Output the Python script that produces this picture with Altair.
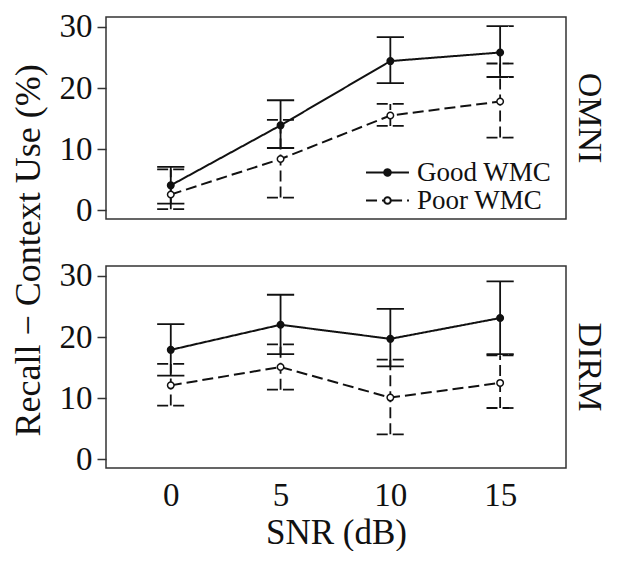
import altair as alt
import pandas as pd

# ---- data ----
snr = [0, 5, 10, 15]
panels = ["OMNI", "DIRM"]
groups = ["Good WMC", "Poor WMC"]

omni_good_mean = [4.1, 13.9, 24.4, 25.8]
omni_good_lo = [1.1, 10.2, 20.8, 21.8]
omni_good_hi = [7.1, 18.0, 28.3, 30.1]
omni_poor_mean = [2.6, 8.4, 15.5, 17.8]
omni_poor_lo = [0.2, 2.1, 13.8, 11.9]
omni_poor_hi = [6.7, 14.8, 17.4, 24.0]

dirm_good_mean = [17.9, 22.0, 19.7, 23.1]
dirm_good_lo = [13.7, 17.2, 15.2, 17.2]
dirm_good_hi = [22.1, 26.9, 24.6, 29.1]
dirm_poor_mean = [12.1, 15.1, 10.1, 12.5]
dirm_poor_lo = [8.8, 11.4, 4.1, 8.4]
dirm_poor_hi = [15.6, 18.8, 16.3, 17.0]

y_ticks = [0, 10, 20, 30]
x_ticks = [0, 5, 10, 15]

series = [
    ("OMNI", "Good WMC", omni_good_mean, omni_good_lo, omni_good_hi),
    ("OMNI", "Poor WMC", omni_poor_mean, omni_poor_lo, omni_poor_hi),
    ("DIRM", "Good WMC", dirm_good_mean, dirm_good_lo, dirm_good_hi),
    ("DIRM", "Poor WMC", dirm_poor_mean, dirm_poor_lo, dirm_poor_hi),
]
rows = []
for panel, grp, m, lo, hi in series:
    for s, a, b, c in zip(snr, m, lo, hi):
        rows.append({"panel": panel, "group": grp, "snr": s, "mean": a, "lo": b, "hi": c})
df = pd.DataFrame(rows)

FONT = "Liberation Serif"
INK = "#111111"
CAP = 0.62

xscale = alt.Scale(domain=[-2.95, 18.0], nice=False, zero=False)
yscale = alt.Scale(domain=[-1.4, 31.6], nice=False, zero=False)
dash_scale = alt.Scale(domain=groups, range=[[1, 0], [11, 5]])
fill_scale = alt.Scale(domain=groups, range=[INK, "#ffffff"])

yaxis = alt.Axis(values=y_ticks, title=None, domain=False, grid=False, tickSize=9,
                 tickWidth=1.5, tickColor="#333333", labelFont=FONT, labelFontSize=33,
                 labelColor=INK, labelPadding=5)

# legend symbol: line with circle in the middle
r = 0.244
L = 1.59
sym_path = (f"M{-L},0L{-r - 0.02},0M{r + 0.02},0L{L},0"
            f"M{-r},0A{r},{r},0,0,1,{r},0M{r},0A{r},{r},0,0,1,{-r},0")

main_legend = alt.Legend(
    title=None, orient="none", legendX=267, legendY=141, padding=0,
    symbolType=sym_path, symbolSize=729, symbolStrokeWidth=2, symbolStrokeColor=INK,
    symbolOpacity=1,
    labelFont=FONT, labelFontSize=27, labelColor=INK, labelOffset=15, rowPadding=0,
)


def panel_chart(name, show_x, with_legend):
    data = df[df["panel"] == name]
    if show_x:
        xaxis = alt.Axis(values=x_ticks, title="SNR (dB)", ticks=False, domain=False,
                         grid=False, labelFont=FONT, labelFontSize=33, labelColor=INK,
                         labelPadding=11, titleFont=FONT, titleFontSize=35,
                         titleFontWeight="normal", titleColor=INK, titlePadding=3)
    else:
        xaxis = None
    X = alt.X("snr:Q", scale=xscale, axis=xaxis)
    base = alt.Chart(data)

    def dash(lg=False):
        if with_legend:
            if lg:
                return alt.StrokeDash("group:N", scale=dash_scale, legend=main_legend)
            return alt.StrokeDash("group:N", scale=dash_scale)
        return alt.StrokeDash("group:N", scale=dash_scale, legend=None)

    err = base.mark_rule(color=INK, strokeWidth=1.8).encode(
        x=X,
        y=alt.Y("lo:Q", scale=yscale, axis=yaxis),
        y2="hi:Q",
        strokeDash=dash(),
    )
    caps = []
    for fld in ["lo", "hi"]:
        caps.append(base.mark_rule(color=INK, strokeWidth=1.8).transform_calculate(
            xa=f"datum.snr - {CAP}", xb=f"datum.snr + {CAP}"
        ).encode(
            x=alt.X("xa:Q", scale=xscale, axis=xaxis),
            x2="xb:Q",
            y=alt.Y(f"{fld}:Q", scale=yscale, axis=yaxis),
            strokeDash=dash(),
        ))
    line = base.mark_line(color=INK, strokeWidth=2).encode(
        x=X,
        y=alt.Y("mean:Q", scale=yscale, axis=yaxis),
        detail="group:N",
        strokeDash=dash(True),
    )
    if with_legend:
        fill = alt.Fill("group:N", scale=fill_scale)
    else:
        fill = alt.Fill("group:N", scale=fill_scale, legend=None)
    pts = base.mark_point(filled=True, shape="circle", size=42, stroke=INK,
                          strokeWidth=1.5, opacity=1).encode(
        x=X,
        y=alt.Y("mean:Q", scale=yscale, axis=yaxis),
        fill=fill,
    )
    return alt.layer(err, *caps, line, pts).properties(
        width=460, height=202,
        title=alt.TitleParams(name, orient="right", anchor="middle", font=FONT,
                              fontSize=34, fontWeight="normal", color=INK, offset=6),
    )


top = panel_chart("OMNI", False, True)
bottom = panel_chart("DIRM", True, False)

chart = alt.vconcat(
    top, bottom, spacing=47, bounds="flush",
    padding={"left": 3, "top": 2, "right": 3, "bottom": 0},
    title=alt.TitleParams("Recall − Context Use (%)", orient="left", anchor="middle",
                          font=FONT, fontSize=36, fontWeight="normal", color=INK,
                          offset=10, dx=30),
).configure_view(stroke="#333333", strokeWidth=1.5)

chart.save("out.html", embed_options={"renderer": "svg", "actions": False})
